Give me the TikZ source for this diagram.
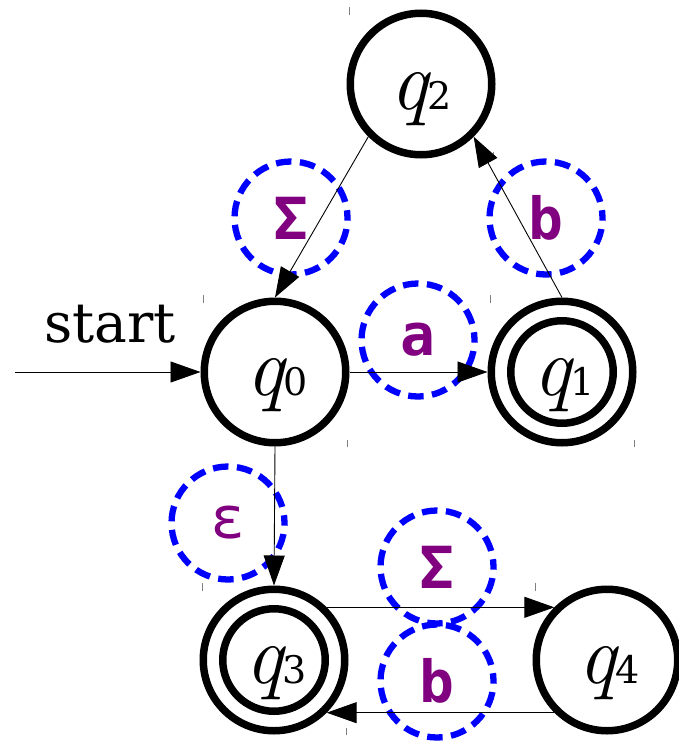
\documentclass[tikz,border=0pt]{standalone}
\usepackage{fontspec}
\newfontfamily\dvserif{DejaVu Serif}
\newfontfamily\dvmono{DejaVu Sans Mono}
\usetikzlibrary{arrows.meta}
\definecolor{lblpurple}{RGB}{128,0,128}
\newcommand\qlbl[1]{{\fontsize{84}{84}\selectfont\itshape q}{\fontsize{38}{38}\selectfont\dvserif #1}}
\begin{document}
\begin{tikzpicture}[x=1pt,y=-1pt,
  state/.style={circle,draw,line width=7.5pt,minimum size=141.5pt,inner sep=0pt},
  inring/.style={circle,draw,line width=7.5pt,minimum size=102.5pt,inner sep=0pt},
  qlab/.style={anchor=base,inner sep=0pt},
  lab/.style={circle,draw=blue,line width=6.3pt,dash pattern=on 15.5pt off 8.5pt,dash phase=7.7pt,
    minimum size=113pt,inner sep=0pt,text=lblpurple,font=\fontsize{58}{58}\selectfont\dvmono\bfseries},
  trans/.style={line width=0.9pt,-{Triangle[length=30pt,width=21pt]}},
  tickmark/.style={draw=gray,line width=0.8pt}]
\useasboundingbox (0,0) rectangle (679,744);
% states
\node[state] (q0) at (275,372) {};
\node[state] (q1) at (562,372) {};
\node[state] (q2) at (421,84) {};
\node[state] (q3) at (274,660) {};
\node[state] (q4) at (607,660) {};
\node[inring] (q1in) at (q1) {};
\node[inring] (q3in) at (q3) {};
% state texts
\node[qlab] (t0) at (277,395) {\qlbl{0}};
\node[qlab] (t1) at (564,395) {\qlbl{1}};
\node[qlab] (t2) at (421,109) {\qlbl{2}};
\node[qlab] (t3) at (276,683) {\qlbl{3}};
\node[qlab] (t4) at (609,683) {\qlbl{4}};
% ticks
\foreach \cx/\cy in {275/372,562/372,421/84,274/660,607/660}{
  \draw[tickmark] (\cx-71.5,\cy-77) -- (\cx-71.5,\cy-69);
  \draw[tickmark] (\cx+72.5,\cy+68) -- (\cx+72.5,\cy+75);
}
% edge labels
\node[lab] (l1) at (291,218) {Σ};
\node[lab] (l2) at (546,218) {b};
\node[lab] (l3) at (418,340) {a};
\node[lab] (l4) at (228,523) {\mdseries ε};
\node[lab] (l5) at (437,567) {Σ};
\node[lab] (l6) at (437,681) {b};
% start
\coordinate (s) at (15,372);
\node[anchor=base,inner sep=0pt,font=\fontsize{55}{55}\selectfont\dvserif] (st) at (110,342) {start};
% transitions
\draw[trans] (s) -- (q0);
\draw[trans] (q0) -- (q1);
\draw[trans] (q2.-135) -- (q0.north);
\draw[trans] (q1.north) -- (q2.-45);
\draw[trans] (q0.south) -- (q3.north);
\draw[trans] (q3.45) -- (q4.135);
\draw[trans] (q4.-135) -- (q3.-45);
\end{tikzpicture}
\end{document}
